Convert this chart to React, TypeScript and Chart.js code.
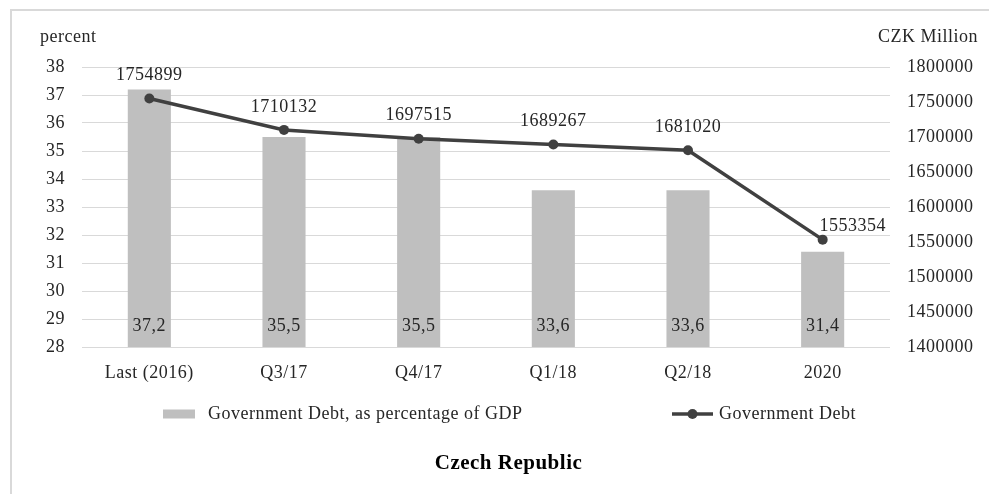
import React, { useEffect, useRef } from "react";
import { Chart, registerables } from "chart.js";

Chart.register(...registerables);

const categories = ["Last (2016)", "Q3/17", "Q4/17", "Q1/18", "Q2/18", "2020"];
const debtPctGdp = [37.2, 35.5, 35.5, 33.6, 33.6, 31.4];
const debtCzk = [1754899, 1710132, 1697515, 1689267, 1681020, 1553354];
const pctRange = [28, 38];
const czkRange = [1400000, 1800000];
const barSeriesName = "Government Debt, as percentage of GDP";
const lineSeriesName = "Government Debt";
const leftAxisTitle = "percent";
const rightAxisTitle = "CZK Million";
const chartTitle = "Czech Republic";

const FONT_FAMILY = '"Liberation Serif", "Times New Roman", serif';
const FONT = `18px ${FONT_FAMILY}`;
const TEXT = "#262626";
const BAR_COLOR = "#bfbfbf";
const LINE_COLOR = "#404040";
const GRID = "#d9d9d9";

const fmtPct = (v: number) => v.toFixed(1).replace(".", ",");

const annotate = {
  id: "annotate",
  afterInit(chart: any) {
    try {
      chart.ctx.letterSpacing = "0.5px";
    } catch (e) {}
  },
  afterDatasetsDraw(chart: any) {
    const ctx = chart.ctx as CanvasRenderingContext2D;
    const area = chart.chartArea;
    ctx.save();
    ctx.font = FONT;
    ctx.fillStyle = TEXT;
    ctx.textBaseline = "middle";

    // bar value labels (inside base)
    const barMeta = chart.getDatasetMeta(0);
    ctx.textAlign = "center";
    barMeta.data.forEach((el: any, i: number) => {
      ctx.fillText(fmtPct(debtPctGdp[i]), el.x, area.bottom - 21);
    });

    // line value labels
    const lineMeta = chart.getDatasetMeta(1);
    const n = debtCzk.length;
    lineMeta.data.forEach((el: any, i: number) => {
      const last = i === n - 1;
      ctx.textAlign = "center";
      ctx.fillText(String(debtCzk[i]), el.x + (last ? 30 : 0), el.y - (last ? 13 : 23));
    });

    // axis titles
    ctx.textAlign = "left";
    ctx.fillText(leftAxisTitle, area.left - 42, area.top - 30);
    ctx.textAlign = "right";
    ctx.fillText(rightAxisTitle, area.right + 88, area.top - 30);

    // legend
    const ly = area.bottom + 67;
    ctx.fillStyle = BAR_COLOR;
    ctx.fillRect(163, ly - 4.5, 32, 9);
    ctx.fillStyle = TEXT;
    ctx.textAlign = "left";
    ctx.fillText(barSeriesName, 208, ly);

    ctx.strokeStyle = LINE_COLOR;
    ctx.lineWidth = 3.5;
    ctx.beginPath();
    ctx.moveTo(672, ly);
    ctx.lineTo(713, ly);
    ctx.stroke();
    ctx.fillStyle = LINE_COLOR;
    ctx.beginPath();
    ctx.arc(692.5, ly, 5, 0, Math.PI * 2);
    ctx.fill();
    ctx.fillStyle = TEXT;
    ctx.fillText(lineSeriesName, 719, ly);

    ctx.restore();
  },
};

export default function App() {
  const ref = useRef<HTMLCanvasElement | null>(null);

  useEffect(() => {
    if (!ref.current) return;
    const chart = new Chart(ref.current, {
      type: "bar",
      data: {
        labels: categories,
        datasets: [
          {
            type: "bar",
            label: barSeriesName,
            data: debtPctGdp,
            backgroundColor: BAR_COLOR,
            borderWidth: 0,
            barPercentage: 0.32,
            categoryPercentage: 1,
            yAxisID: "y",
            order: 2,
          },
          {
            type: "line",
            label: lineSeriesName,
            data: debtCzk,
            borderColor: LINE_COLOR,
            backgroundColor: LINE_COLOR,
            borderWidth: 3.5,
            pointRadius: 5,
            pointBackgroundColor: LINE_COLOR,
            pointBorderWidth: 0,
            tension: 0,
            yAxisID: "y1",
            order: 1,
          },
        ] as any,
      },
      options: {
        responsive: false,
        animation: false,
        devicePixelRatio: 1,
        layout: { padding: { left: 28, right: 0, top: 67, bottom: 0 } },
        plugins: {
          legend: { display: false },
          tooltip: { enabled: false },
          title: {
            display: true,
            text: chartTitle,
            position: "bottom",
            color: "#000000",
            font: { family: FONT_FAMILY, size: 21, weight: "bold" },
            padding: { top: 67.4, bottom: 17.4 },
          },
        },
        scales: {
          x: {
            grid: { display: false, drawTicks: false },
            border: { display: false },
            ticks: {
              color: TEXT,
              font: { family: FONT_FAMILY, size: 18 },
              padding: 15,
              maxRotation: 0,
              autoSkip: false,
            },
            afterFit: (axis: any) => {
              axis.height = 37;
            },
          },
          y: {
            position: "left",
            min: pctRange[0],
            max: pctRange[1],
            grid: { color: GRID, lineWidth: 1, drawTicks: false },
            border: { display: false },
            ticks: {
              stepSize: 1,
              color: TEXT,
              font: { family: FONT_FAMILY, size: 18 },
              padding: 17,
            },
            afterFit: (axis: any) => {
              axis.width = 54;
            },
          },
          y1: {
            position: "right",
            min: czkRange[0],
            max: czkRange[1],
            grid: { display: false, drawTicks: false },
            border: { display: false },
            ticks: {
              stepSize: 50000,
              color: TEXT,
              font: { family: FONT_FAMILY, size: 18 },
              padding: 17,
              callback: (v: any) => String(v),
            },
            afterFit: (axis: any) => {
              axis.width = 99;
            },
          },
        },
      } as any,
      plugins: [annotate],
    });
    return () => chart.destroy();
  }, []);

  return (
    <div
      style={{
        position: "fixed",
        left: 0,
        top: 0,
        width: 989,
        height: 494,
        background: "#ffffff",
        overflow: "hidden",
      }}
    >
      <div
        style={{
          position: "absolute",
          left: 10,
          top: 9,
          width: 990,
          height: 500,
          border: "2px solid #d9d9d9",
          boxSizing: "border-box",
        }}
      />
      <canvas
        ref={ref}
        width={989}
        height={494}
        style={{ position: "absolute", left: 0, top: 0, width: 989, height: 494 }}
      />
    </div>
  );
}
